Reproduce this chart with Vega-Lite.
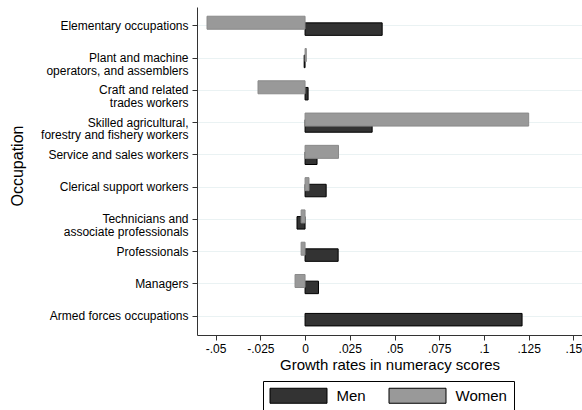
{
  "$schema": "https://vega.github.io/schema/vega-lite/v6.json",
  "autosize": {"type": "none"},
  "padding": {"left": 197, "top": 7, "right": 0, "bottom": 75},
  "width": 385,
  "height": 328,
  "config": {
    "font": "Liberation Sans",
    "view": {"stroke": null},
    "axis": {"labelColor": "#000", "titleColor": "#000", "titleFontWeight": "normal", "domainColor": "#333", "tickColor": "#333", "tickSize": 5}
  },
  "data": {
    "values": [
      {"occupation": "Elementary occupations", "sex": "Men", "growth": 0.0431},
      {"occupation": "Elementary occupations", "sex": "Women", "growth": -0.0548},
      {"occupation": "Plant and machine operators, and assemblers", "sex": "Men", "growth": -0.0005},
      {"occupation": "Plant and machine operators, and assemblers", "sex": "Women", "growth": 0.0007},
      {"occupation": "Craft and related trades workers", "sex": "Men", "growth": 0.0017},
      {"occupation": "Craft and related trades workers", "sex": "Women", "growth": -0.0263},
      {"occupation": "Skilled agricultural, forestry and fishery workers", "sex": "Men", "growth": 0.0375},
      {"occupation": "Skilled agricultural, forestry and fishery workers", "sex": "Women", "growth": 0.125},
      {"occupation": "Service and sales workers", "sex": "Men", "growth": 0.0067},
      {"occupation": "Service and sales workers", "sex": "Women", "growth": 0.0187},
      {"occupation": "Clerical support workers", "sex": "Men", "growth": 0.0118},
      {"occupation": "Clerical support workers", "sex": "Women", "growth": 0.0022},
      {"occupation": "Technicians and associate professionals", "sex": "Men", "growth": -0.0045},
      {"occupation": "Technicians and associate professionals", "sex": "Women", "growth": -0.0022},
      {"occupation": "Professionals", "sex": "Men", "growth": 0.0185},
      {"occupation": "Professionals", "sex": "Women", "growth": -0.0022},
      {"occupation": "Managers", "sex": "Men", "growth": 0.0075},
      {"occupation": "Managers", "sex": "Women", "growth": -0.0056},
      {"occupation": "Armed forces occupations", "sex": "Men", "growth": 0.1213}
    ]
  },
  "encoding": {
    "y": {
      "field": "occupation", "type": "nominal",
      "sort": ["Elementary occupations", "Plant and machine operators, and assemblers", "Craft and related trades workers", "Skilled agricultural, forestry and fishery workers", "Service and sales workers", "Clerical support workers", "Technicians and associate professionals", "Professionals", "Managers", "Armed forces occupations"],
      "scale": {"paddingInner": 0, "paddingOuter": 0.08},
      "axis": {
        "title": "Occupation", "titleFontSize": 16, "titleAngle": -90, "titleX": -179.5, "titleY": 158.5, "titleAlign": "center", "titleBaseline": "middle",
        "labelFontSize": 12, "labelPadding": 4, "labelLineHeight": 12.5, "labelLimit": 300,
        "grid": true, "gridColor": "#eaf2f3", "gridWidth": 1, "bandPosition": 0.5,
        "labelExpr": "datum.value == 'Plant and machine operators, and assemblers' ? ['Plant and machine', 'operators, and assemblers'] : datum.value == 'Craft and related trades workers' ? ['Craft and related', 'trades workers'] : datum.value == 'Skilled agricultural, forestry and fishery workers' ? ['Skilled agricultural,', 'forestry and fishery workers'] : datum.value == 'Technicians and associate professionals' ? ['Technicians and', 'associate professionals'] : datum.value"
      }
    },
    "x": {
      "field": "growth", "type": "quantitative",
      "scale": {"domain": [-0.0604, 0.1548], "nice": false, "zero": false},
      "axis": {
        "title": "Growth rates in numeracy scores", "titleFontSize": 15, "titlePadding": 3,
        "values": [-0.05, -0.025, 0, 0.025, 0.05, 0.075, 0.1, 0.125, 0.15],
        "labelExpr": "replace(toString(datum.value), '0.', '.')",
        "labelFontSize": 12, "labelPadding": 3, "grid": false, "labelFlush": false
      }
    },
    "color": {
      "field": "sex", "type": "nominal",
      "scale": {"domain": ["Men", "Women"], "range": ["#333333", "#999999"]},
      "legend": {
        "title": null, "orient": "none", "legendX": 66, "legendY": 374, "direction": "horizontal",
        "symbolType": "M-3.8,-1H3.8V1H-3.8Z", "symbolSize": 225, "symbolOffset": 21, "symbolStrokeColor": "#000", "symbolStrokeWidth": 1, "symbolOpacity": 1,
        "labelFontSize": 15, "labelOffset": 30, "columnPadding": 20,
        "strokeColor": "#000", "fillColor": "#fff", "padding": 6.5
      }
    }
  },
  "layer": [
    {
      "transform": [{"filter": "datum.sex == 'Men'"}],
      "mark": {"type": "bar", "height": 12.5, "yOffset": 3.4, "stroke": "#000", "strokeWidth": 1}
    },
    {
      "transform": [{"filter": "datum.sex == 'Women'"}],
      "mark": {"type": "bar", "height": 13, "yOffset": -3, "stroke": "#8a8a8a", "strokeWidth": 1}
    }
  ]
}
